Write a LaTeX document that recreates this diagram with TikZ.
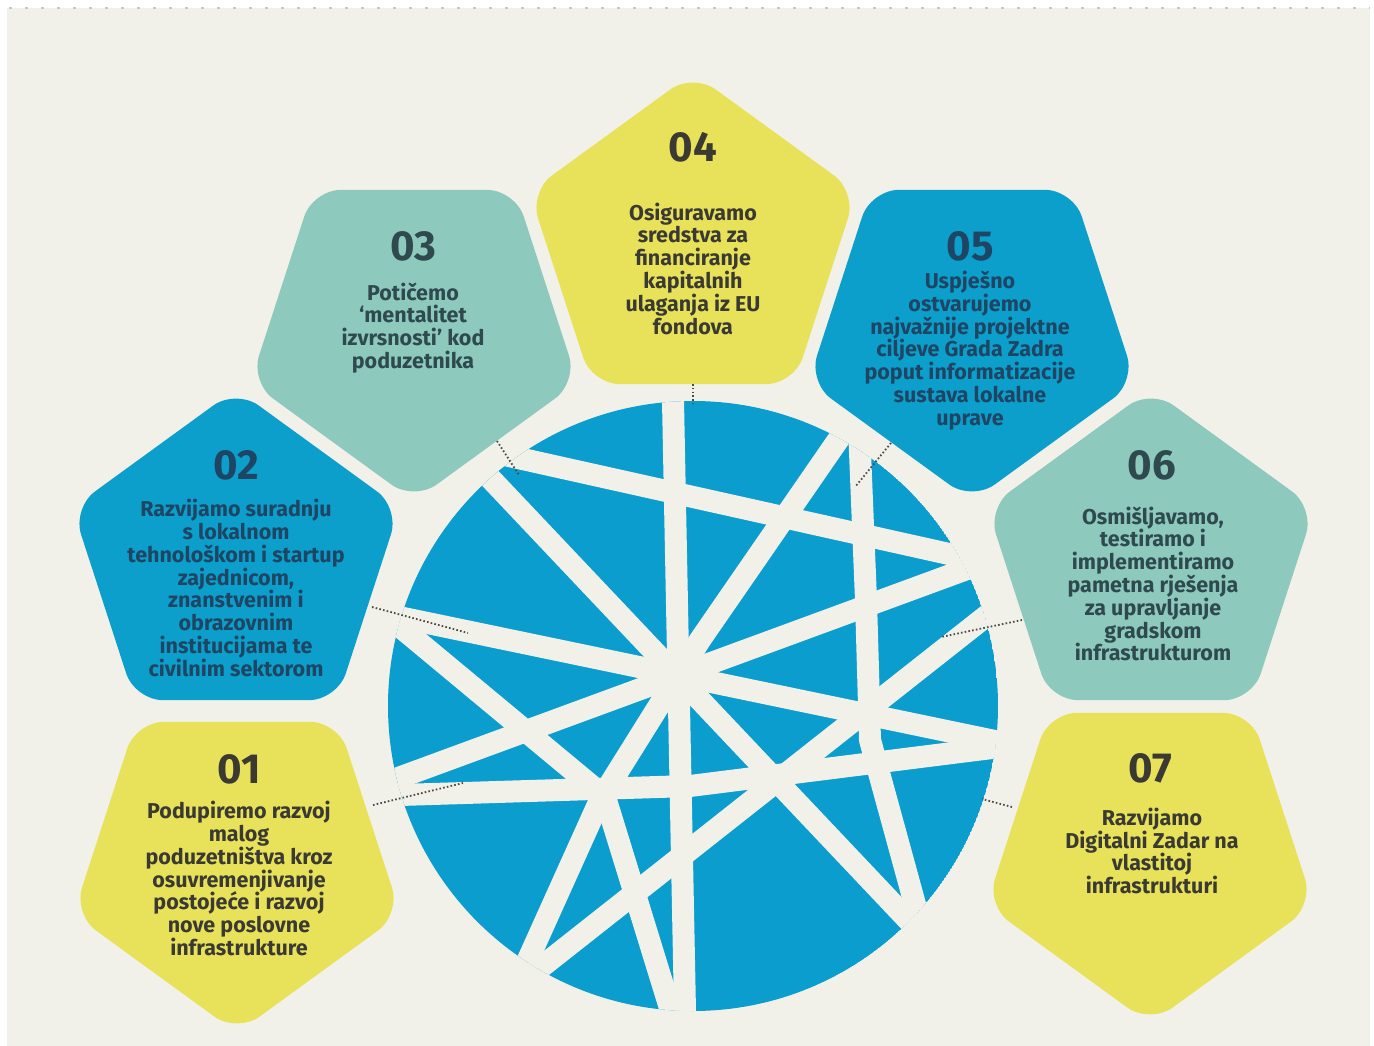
\documentclass[tikz,border=0pt]{standalone}
\usepackage{fontspec}
\setmainfont{Fira Sans}
\usetikzlibrary{calc}
\definecolor{bg}{HTML}{F1F1EA}
\definecolor{pyellow}{HTML}{E8E25A}
\definecolor{pteal}{HTML}{8DC9BC}
\definecolor{pblue}{HTML}{0C9FCB}
\definecolor{cblue}{HTML}{0A9DCD}
\definecolor{txtY}{HTML}{3A3A33}
\definecolor{txtB}{HTML}{1E4563}
\definecolor{txtT}{HTML}{2E4A4E}
\definecolor{dotc}{HTML}{4A4A4A}
\tikzset{
  pics/pent/.style={code={\path[pic actions] (270:172) -- (342:172) -- (54:172) -- (126:172) -- (198:172) -- cycle;}},
  penta/.style={rounded corners=28pt},
  numtxt/.style={font=\bfseries\fontsize{42}{44}\selectfont, inner sep=0pt},
  bodytxt/.style={font=\bfseries\fontsize{21.5}{22.8}\selectfont, align=center, inner sep=0pt},
  band/.style={draw=bg, line width=22pt, line join=round, shorten <=-25pt, shorten >=-25pt},
  link/.style={draw=dotc, line width=1.8pt, dash pattern=on 1.6pt off 2.2pt},
}
\begin{document}
\begin{tikzpicture}[x=1pt,y=-1pt]
\useasboundingbox (0,0) rectangle (1374,1046);
\fill[white] (0,0) rectangle (1374,1046);
\fill[bg] (7,8) rectangle (1370,1046);
\draw[gray!45, line width=2pt, dash pattern=on 3pt off 13pt] (9,8) -- (1370,8);

% pentagons
\pic[fill=pyellow, penta] at (693,245) {pent};
\pic[fill=pteal, penta, rotate=180] at (414,329) {pent};
\pic[fill=pblue, penta, rotate=180] at (972,329) {pent};
\pic[fill=pblue, penta] at (236,561) {pent};
\pic[fill=pteal, penta] at (1151,561) {pent};
\pic[fill=pyellow, penta, rotate=180] at (237,861) {pent};
\pic[fill=pyellow, penta, rotate=180] at (1150,852) {pent};

% circle with white bands
\coordinate (ctr) at (693,706);
\begin{scope}
\clip (ctr) circle (305);
\fill[cblue] (ctr) circle (305);
% A vertical
\draw[band] (673,401) -- (685,1011);
% B diagonal
\draw[band] (490,478) -- (910,922);
% C upper chord
\draw[band] (518,458) -- (958,556);
% E left to right
\draw[band] (413,620) -- (990,740);
% H lower-left to upper-right
\draw[band] (401,777) -- (967,569);
% L bottom-left to right
\draw[band] (540,968) -- (985,617);
% G near horizontal
\draw[band] (400,795) -- (690,786) -- (992,748);
% D upper-right to lower-left
\draw[band] (838,440) -- (700,640) -- (600,800) -- (527,962);
% I/K left to bottom
\draw[band] (398,625) -- (605,797) -- (670,1008);
% F right near-vertical
\draw[band] (860,452) -- (866,600) -- (870,740) -- (916,908);
\end{scope}

% dotted connectors
\coordinate (p04) at (693,384); \coordinate (q04) at (693,404);
\coordinate (p03) at (497,441); \coordinate (q03) at (519,475);
\coordinate (p05) at (891,443); \coordinate (q05) at (855,487);
\coordinate (p02) at (372,607); \coordinate (q02) at (468,633);
\coordinate (p06) at (1022,620); \coordinate (q06) at (941,637);
\coordinate (p01) at (373,805); \coordinate (q01) at (463,783);
\coordinate (p07) at (1012,807); \coordinate (q07) at (982,799);
\foreach \i in {04,03,05,02,06,01,07} \draw[link] (p\i) -- (q\i);

% texts
\node[numtxt, text=txtY] (n04) at (693,147) {04};
\node[bodytxt, text=txtY] (t04) at (693,268.5) {Osiguravamo\\sredstva za\\financiranje\\kapitalnih\\ulaganja iz EU\\fondova};
\node[numtxt, text=txtT] (n03) at (413,246) {03};
\node[bodytxt, text=txtT] (t03) at (413,328) {Potičemo\\‘mentalitet\\izvrsnosti’ kod\\poduzetnika};
\node[numtxt, text=txtB] (n05) at (970,246) {05};
\node[bodytxt, text=txtB] (t05) at (970,350.5) {Uspješno\\ostvarujemo\\najvažnije projektne\\ciljeve Grada Zadra\\poput informatizacije\\sustava lokalne\\uprave};
\node[numtxt, text=txtB] (n02) at (236,465) {02};
\node[bodytxt, text=txtB] (t02) at (236,588) {Razvijamo suradnju\\s lokalnom\\tehnološkom i startup\\zajednicom,\\znanstvenim i\\obrazovnim\\institucijama te\\civilnim sektorom};
\node[numtxt, text=txtT] (n06) at (1152,465) {06};
\node[bodytxt, text=txtT] (t06) at (1153,584) {Osmišljavamo,\\testiramo i\\implementiramo\\pametna rješenja\\za upravljanje\\gradskom\\infrastrukturom};
\node[numtxt, text=txtY] (n01) at (239,769) {01};
\node[bodytxt, text=txtY] (t01) at (239,878.5) {Podupiremo razvoj\\malog\\poduzetništva kroz\\osuvremenjivanje\\postojeće i razvoj\\nove poslovne\\infrastrukture};
\node[numtxt, text=txtY] (n07) at (1150,768) {07};
\node[bodytxt, text=txtY] (t07) at (1152,851) {Razvijamo\\Digitalni Zadar na\\vlastitoj\\infrastrukturi};
\end{tikzpicture}
\end{document}
